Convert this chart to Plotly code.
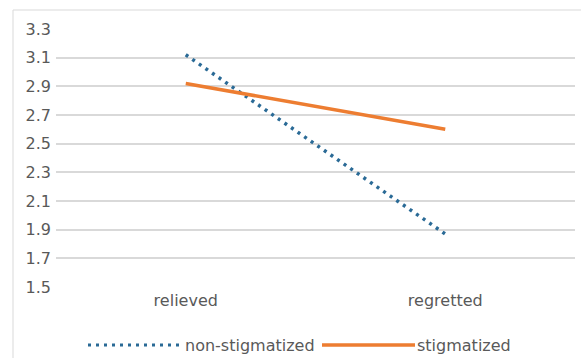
import plotly.graph_objects as go

categories = ["relieved", "regretted"]
non_stigmatized = [3.12, 1.87]
stigmatized = [2.92, 2.60]
y_ticks = [1.5, 1.7, 1.9, 2.1, 2.3, 2.5, 2.7, 2.9, 3.1, 3.3]
series_names = ["non-stigmatized", "stigmatized"]

BLUE = "#2A6A96"
ORANGE = "#ED7D31"
TEXT = "#595959"
FONT = "DejaVu Sans"

W, H = 581, 358
L, R, T, B = 56, 6, 29, 71
pw = W - L - R
ph = H - T - B

def px_x(x):
    return (x - L) / pw

def px_y(y):
    return (H - B - y) / ph

fig = go.Figure()
fig.add_trace(go.Scatter(x=categories, y=non_stigmatized, mode="lines",
                         name=series_names[0],
                         line=dict(color=BLUE, width=3.5, dash="3px,5px"),
                         showlegend=False))
fig.add_trace(go.Scatter(x=categories, y=stigmatized, mode="lines",
                         name=series_names[1],
                         line=dict(color=ORANGE, width=3.5),
                         showlegend=False))

# chart border
fig.add_shape(type="rect", xref="paper", yref="paper",
              x0=px_x(13), x1=px_x(600), y0=px_y(400), y1=px_y(10),
              line=dict(color="#D9D9D9", width=1), layer="below")

# manual legend
ly = px_y(345)
fig.add_shape(type="line", xref="paper", yref="paper",
              x0=px_x(88), x1=px_x(182), y0=ly, y1=ly,
              line=dict(color=BLUE, width=3, dash="3px,5px"))
fig.add_annotation(xref="paper", yref="paper", x=px_x(183), y=ly,
                   xanchor="left", yanchor="middle", showarrow=False,
                   text=series_names[0], font=dict(family=FONT, size=16, color=TEXT))
fig.add_shape(type="line", xref="paper", yref="paper",
              x0=px_x(322), x1=px_x(415), y0=ly, y1=ly,
              line=dict(color=ORANGE, width=3.5))
fig.add_annotation(xref="paper", yref="paper", x=px_x(415), y=ly,
                   xanchor="left", yanchor="middle", showarrow=False,
                   text=series_names[1], font=dict(family=FONT, size=16, color=TEXT))

fig.update_layout(
    width=W, height=H,
    margin=dict(l=L, r=R, t=T, b=B),
    paper_bgcolor="white", plot_bgcolor="white",
    font=dict(family=FONT, size=16, color=TEXT),
    showlegend=False,
)
fig.update_xaxes(type="category", range=[-0.5, 1.5], showgrid=False,
                 showline=False, ticks="", tickfont=dict(size=16, color=TEXT),
                 ticklabelstandoff=2)
fig.update_yaxes(range=[1.5, 3.3], tickvals=y_ticks,
                 ticktext=[f"{v:.1f}" for v in y_ticks],
                 showgrid=True, gridcolor="#D9D9D9", gridwidth=1.5,
                 zeroline=False, showline=False, ticks="",
                 tickfont=dict(size=16, color=TEXT),
                 ticklabelstandoff=4)

fig.write_html("out.html",
               config={"displayModeBar": False},
               post_script="document.body.style.margin='0px';document.body.style.padding='0px';")
